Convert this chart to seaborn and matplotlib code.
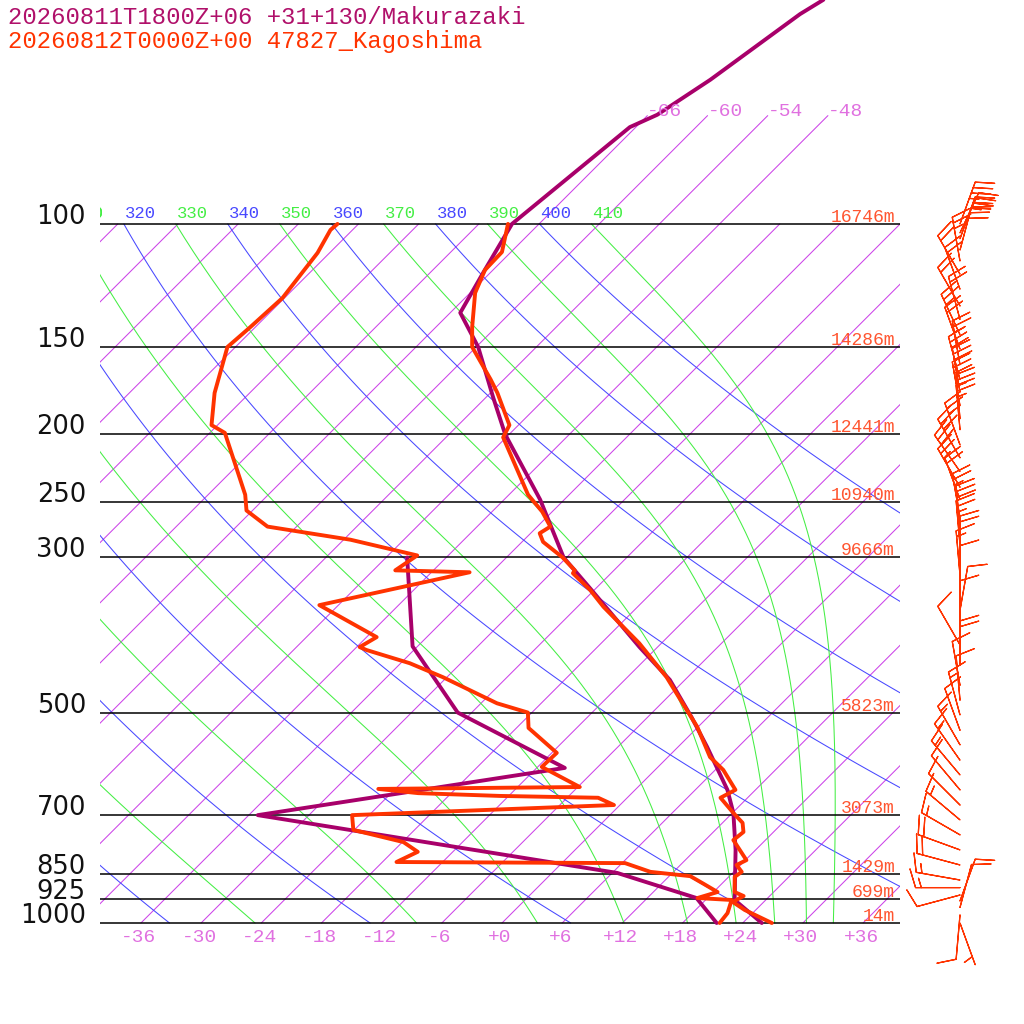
import matplotlib
matplotlib.use("Agg")

import matplotlib.pyplot as plt
import numpy as np
import pandas as pd
import seaborn as sns
from matplotlib import transforms

# skew-T geometry: 10.03 px per degC, 303.6 px per ln(p), 45 deg isotherms
SKEW = 303.6 / 10.03
X_LEFT, X_RIGHT = (100 - 502) / 10.03, (900 - 502) / 10.03
P_BOTTOM, P_TOP = 1394.7, 47.83

# model sounding (Makurazaki, purple)
mdl_t_p = [1000, 927, 786, 696, 645, 560, 509, 449, 403, 332, 300, 248, 200, 177,
           150, 134, 117.5, 100, 72.7, 69.8, 62.2, 50.1, 47.8]
mdl_t = [25.9, 20.9, 16.0, 12.1, 9.2, 2.9, -1.5, -7.5, -13.8, -24.6, -30.3, -38.4,
         -48.4, -53.3, -59.8, -65.0, -66.7, -68.7, -66.6, -65.1, -63.3, -60.9, -60.0]
mdl_td_p = [1000, 921, 848, 701, 600, 500, 402, 300]
mdl_td = [21.4, 16.9, 6.5, -35.1, -9.2, -25.4, -36.5, -45.9]

# observed sounding (47827 Kagoshima, red)
obs_t_p = [1000, 958, 933, 915, 903, 859, 845, 826, 813, 761, 741, 719, 696, 662,
           645, 604, 579, 524, 496, 445, 398, 353, 334, 316, 313, 300, 285, 277,
           271, 258, 244, 202, 194, 174.5, 167, 150, 140.4, 125.5, 116.4, 109.7, 100]
obs_t = [26.9, 22.9, 20.9, 21.4, 20.1, 18.6, 18.8, 17.6, 18.1, 14.8, 15.0, 14.0,
         12.1, 9.3, 10.0, 6.8, 4.2, -0.1, -2.8, -8.1, -14.2, -21.4, -24.4, -27.8,
         -27.9, -30.4, -33.9, -35.1, -34.7, -37.0, -40.1, -48.3, -48.9, -53.3,
         -55.3, -60.4, -62.4, -65.5, -66.8, -66.9, -69.1]
obs_td_p = [1000, 968, 927, 921, 903, 879, 857, 845, 821, 818, 791, 766, 736, 701,
            678, 662, 658, 652, 643, 639, 598, 571, 526, 500, 485, 445, 425, 407,
            403, 390, 351, 315, 313, 298, 283, 271, 257, 244, 199, 194, 174.5, 150,
            140.4, 127.6, 110, 102, 100]
obs_td = [21.7, 21.5, 20.6, 17.0, 18.4, 16.2, 14.1, 9.7, 6.3, -16.6, -15.5, -17.9,
          -24.1, -25.7, -0.6, -2.9, -12.9, -21.3, -25.7, -5.8, -11.6, -11.5, -16.8,
          -18.4, -22.4, -30.4, -35.1, -40.7, -41.7, -41.0, -49.9, -38.2, -45.8,
          -45.1, -53.3, -62.9, -66.6, -68.3, -76.5, -78.6, -81.5, -84.8, -84.5,
          -84.2, -85.2, -86.2, -86.1]

# observed winds: pressure (hPa), direction (deg), speed (kt)
wind_p = [100, 103, 105, 109, 113, 118, 124, 131, 137, 144, 151, 159, 167, 174,
          182, 190, 197, 207, 216, 226, 238, 248, 263, 274, 288, 303, 318, 334,
          357, 375, 400, 428, 457, 480, 504, 530, 556, 585, 614, 645, 678, 712,
          748, 786, 826, 868, 890, 912, 930, 950, 974, 1000]
wind_dir = [20, 25, 20, 15, 350, 330, 340, 330, 345, 335, 340, 350, 345, 350, 350,
            355, 355, 340, 330, 325, 330, 340, 350, 355, 355, 0, 355, 0, 10, 0,
            330, 0, 350, 355, 345, 340, 330, 325, 320, 320, 315, 310, 300, 290,
            285, 280, 270, 255, 20, 15, 185, 160]
wind_spd = [35, 35, 30, 30, 25, 20, 20, 20, 20, 25, 20, 25, 30, 30, 30, 25, 25,
            25, 30, 30, 25, 20, 25, 30, 25, 20, 15, 10, 10, 10, 10, 20, 10, 10,
            15, 10, 15, 15, 15, 10, 10, 15, 15, 20, 20, 15, 15, 10, 10, 10, 10, 5]

p_levels = [100, 150, 200, 250, 300, 500, 700, 850, 925, 1000]
p_labels = ["100", "150", "200", "250", "300", "500", "700", "850", "925", "1000"]
heights = ["16746m", "14286m", "12441m", "10940m", "9666m", "5823m", "3073m",
           "1429m", "699m", "14m"]

isotherms = list(range(-120, 37, 6))
isotherm_top = [-66, -60, -54, -48]
t_ticks = list(range(-36, 37, 6))
dry_thetas = list(range(240, 401, 20))
moist_thetas = list(range(250, 411, 20))

PURPLE = "#a8006a"
RED = "#ff3300"
MAG = "#cc44e8"
MAG_TXT = "#e070e0"
BLUE = "#4848ff"
GREEN = "#44ee44"


def skew_x(t, p):
    return np.asarray(t, float) + SKEW * np.log(1000.0 / np.asarray(p, float))


def moist_adiabat(theta_e, lp):
    rd, cp, lv, eps = 287.04, 1005.7, 2.501e6, 0.622

    def slope(t, p):
        es = 6.112 * np.exp(17.67 * (t - 273.15) / (t - 29.65))
        rs = eps * es / (p - es)
        return (rd * t + lv * rs) / (cp + lv * lv * rs * eps / (rd * t * t))

    t = theta_e * 0.1 ** 0.2857
    out = [t]
    for a, b in zip(lp[:-1], lp[1:]):
        h = b - a
        k1 = slope(t, np.exp(a))
        k2 = slope(t + h * k1 / 2, np.exp(a + h / 2))
        k3 = slope(t + h * k2 / 2, np.exp(a + h / 2))
        k4 = slope(t + h * k3, np.exp(b))
        t = t + h * (k1 + 2 * k2 + 2 * k3 + k4) / 6
        out.append(t)
    return np.array(out) - 273.15


sns.set_theme(style="white")
plt.rcParams['font.family'] = ['DejaVu Sans']

fig = plt.figure(figsize=(10.24, 10.24), dpi=100)
ax = fig.add_axes([100 / 1024, 0, 800 / 1024, 1])
ax.set_yscale('log')


def off(dx, dy):
    return transforms.offset_copy(ax.transData, fig=fig, x=dx, y=dy, units='dots')


# isotherms
for t in isotherms:
    ptop = 70 if t in isotherm_top else 100
    pp = np.array([1000, ptop])
    ax.plot(skew_x([t, t], pp), pp, color=MAG, lw=0.75)
for t in isotherm_top:
    ax.text(skew_x(t, 70), 70, "%d" % t, color=MAG_TXT, fontsize=14,
            family='Liberation Mono', ha='left', va='baseline')

# dry adiabats
pp = np.logspace(2, 3, 120)
for th in dry_thetas:
    tt = th * (pp / 1000) ** 0.2857 - 273.15
    ax.plot(skew_x(tt, pp), pp, color=BLUE, lw=0.75)

# moist adiabats
lp = np.linspace(np.log(100), np.log(1000), 300)
for th in moist_thetas:
    tt = moist_adiabat(th, lp)
    ax.plot(skew_x(tt, np.exp(lp)), np.exp(lp), color=GREEN, lw=0.75)

# theta labels along 100 hPa
for th in sorted(dry_thetas + moist_thetas + [310]):
    if th < 310:
        continue
    col = BLUE if th in dry_thetas else GREEN
    t100 = th * 0.1 ** 0.2857 - 273.15
    ax.text(skew_x(t100, 100), 100, str(th), color=col, fontsize=12.4,
            family='Liberation Mono', ha='left', va='baseline',
            transform=off(1, 6), clip_on=True)

# pressure lines and labels
for p, lab, h in zip(p_levels, p_labels, heights):
    ax.axhline(p, color='black', lw=1.1)
    ax.text(X_LEFT - 1.4, p, lab, color='#111111', fontsize=18.5, ha='right',
            va='baseline', clip_on=False)
    ax.text(X_RIGHT - 0.5, p, h, color='#ff5530', fontsize=13,
            family='Liberation Mono', ha='right', va='baseline',
            transform=off(0, 2), clip_on=False)

# temperature labels
for t in t_ticks:
    ax.text(t, 1000, "%+d" % t, color=MAG_TXT, fontsize=14,
            family='Liberation Mono', ha='center', va='baseline',
            transform=off(-2, -19), clip_on=False)

# soundings
for tt, pp_, col in [(mdl_t, mdl_t_p, PURPLE), (mdl_td, mdl_td_p, PURPLE),
                     (obs_t, obs_t_p, RED), (obs_td, obs_td_p, RED)]:
    df = pd.DataFrame({"x": skew_x(tt, pp_), "p": pp_})
    sns.lineplot(data=df, x="x", y="p", sort=False, estimator=None,
                 color=col, lw=2.8, ax=ax)

# wind barbs
wd = np.radians(wind_dir)
spd = np.array(wind_spd, float)
u = -spd * np.sin(wd)
v = -spd * np.cos(wd)
bx = np.full(len(wind_p), (960 - 502) / 10.03)
ax.barbs(bx, wind_p, u, v, color=RED, length=8, linewidth=0.9,
         sizes=dict(spacing=0.13, height=0.42, width=0.25),
         clip_on=False)

ax.set_xlim(X_LEFT, X_RIGHT)
ax.set_ylim(P_BOTTOM, P_TOP)
ax.axis('off')

fig.text(8 / 1024, 1 - 24 / 1024, "20260811T1800Z+06 +31+130/Makurazaki",
         color="#b0106a", fontsize=17.2, family='Liberation Mono', va='baseline')
fig.text(8 / 1024, 1 - 48 / 1024, "20260812T0000Z+00 47827_Kagoshima",
         color=RED, fontsize=17.2, family='Liberation Mono', va='baseline')

fig.savefig("out.png", dpi=100, facecolor='white')
